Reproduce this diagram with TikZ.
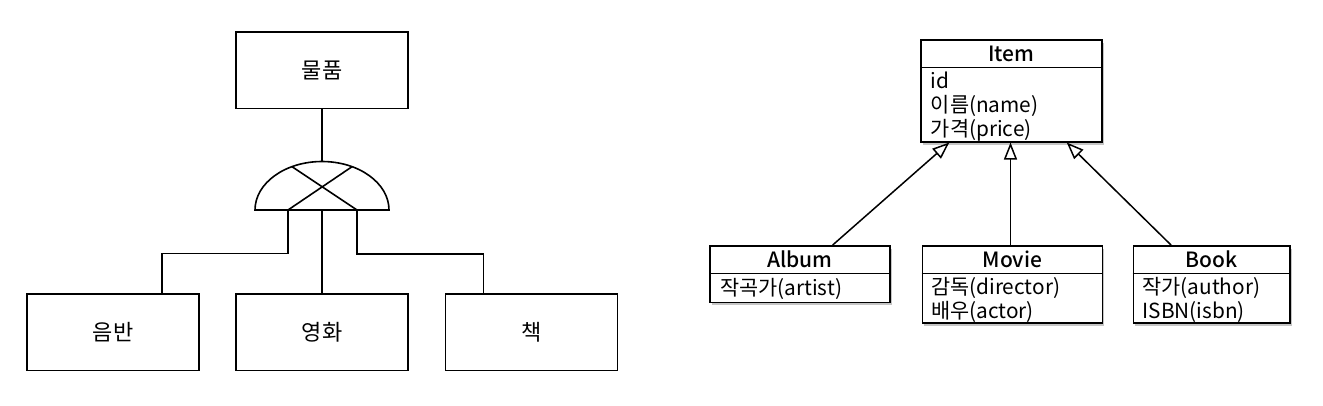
\documentclass[tikz,border=0pt]{standalone}
\usepackage{fontspec}
\setmainfont{Noto Sans CJK KR}
\newfontfamily\headfont{Noto Sans CJK KR Medium}
\usetikzlibrary{arrows.meta,shadows}
\begin{document}
\begin{tikzpicture}[x=1pt,y=-1pt,
  erbox/.style={draw, line width=1.6pt, minimum width=172pt, minimum height=76.7pt, inner sep=0pt, font=\fontsize{22}{26}\selectfont},
  link/.style={line width=1.6pt},
  umlbox/.style={draw, fill=white, line width=1.5pt, inner sep=0pt, anchor=north west,
    drop shadow={shadow xshift=2pt, shadow yshift=-3pt, fill=black!45, opacity=0.5}},
  umlsep/.style={line width=1.5pt},
  umlhead/.style={inner sep=0pt, font=\headfont\fontsize{21}{24}\selectfont},
  umlattr/.style={anchor=base west, inner sep=0pt, font=\fontsize{20.8}{24}\selectfont},
  gen/.style={line width=1.5pt, -{Triangle[open, length=17pt, width=13pt, line width=1.5pt]}}]
\useasboundingbox (0,0) rectangle (1323,405);
% ---------- left: ER style ----------
\node[erbox] (thing) at (322,70.3) {물품};
\node[erbox] (album0) at (113,332.3) {음반};
\node[erbox] (movie0) at (322,332.3) {영화};
\node[erbox] (book0) at (531.3,332.3) {책};
\coordinate (dtop) at (322,161.5);
\coordinate (gl) at (288,210);
\coordinate (gm) at (322,210);
\coordinate (gr) at (357,210);
\draw[link] (255,210) arc[start angle=180, end angle=0, x radius=67pt, y radius=48.5pt] -- cycle;
\draw[link] (292,166.7) -- (gr);
\draw[link] (352,166.7) -- (gl);
\draw[link] (thing.south) -- (dtop);
\draw[link] (gl) |- (162,253.5) -- ([xshift=49pt]album0.north);
\draw[link] (gm) -- (movie0.north);
\draw[link] (gr) |- (483.5,254) -- ([xshift=-47.8pt]book0.north);
% ---------- right: UML ----------
\node[umlbox, minimum width=181pt, minimum height=101.7pt] (item) at (920,39.3) {};
\draw[umlsep] ([yshift=-28.4pt]item.north west) -- ([yshift=-28.4pt]item.north east);
\node[umlhead] (itemh) at ([yshift=-14.2pt]item.north) {Item};
\node[umlattr] (itema1) at (930.7,88) {id};
\node[umlattr] (itema2) at (930.7,112.3) {이름(name)};
\node[umlattr] (itema3) at (930.7,136.6) {가격(price)};

\node[umlbox, minimum width=180.3pt, minimum height=56.7pt] (album) at (709,245) {};
\draw[umlsep] ([yshift=-28.3pt]album.north west) -- ([yshift=-28.3pt]album.north east);
\node[umlhead] (albumh) at ([yshift=-14.2pt]album.north) {Album};
\node[umlattr] (albuma1) at (720,295) {작곡가(artist)};

\node[umlbox, minimum width=180pt, minimum height=77.3pt] (movie) at (921.7,245) {};
\draw[umlsep] ([yshift=-28.3pt]movie.north west) -- ([yshift=-28.3pt]movie.north east);
\node[umlhead] (movieh) at ([yshift=-14.2pt]movie.north) {Movie};
\node[umlattr] (moviea1) at (931,294.5) {감독(director)};
\node[umlattr] (moviea2) at (931,318) {배우(actor)};

\node[umlbox, minimum width=156.6pt, minimum height=77.3pt] (book) at (1132.7,245) {};
\draw[umlsep] ([yshift=-28.3pt]book.north west) -- ([yshift=-28.3pt]book.north east);
\node[umlhead] (bookh) at ([yshift=-14.2pt]book.north) {Book};
\node[umlattr] (booka1) at (1142.3,294.5) {작가(author)};
\node[umlattr] (booka2) at (1142.3,318) {ISBN(isbn)};

\draw[gen] ([xshift=123.7pt]album.north west) -- ([xshift=29.3pt]item.south west);
\draw[gen] ([xshift=88.8pt]movie.north west) -- ([xshift=90.5pt]item.south west);
\draw[gen] ([xshift=38.3pt]book.north west) -- ([xshift=146.7pt]item.south west);
\end{tikzpicture}
\end{document}
